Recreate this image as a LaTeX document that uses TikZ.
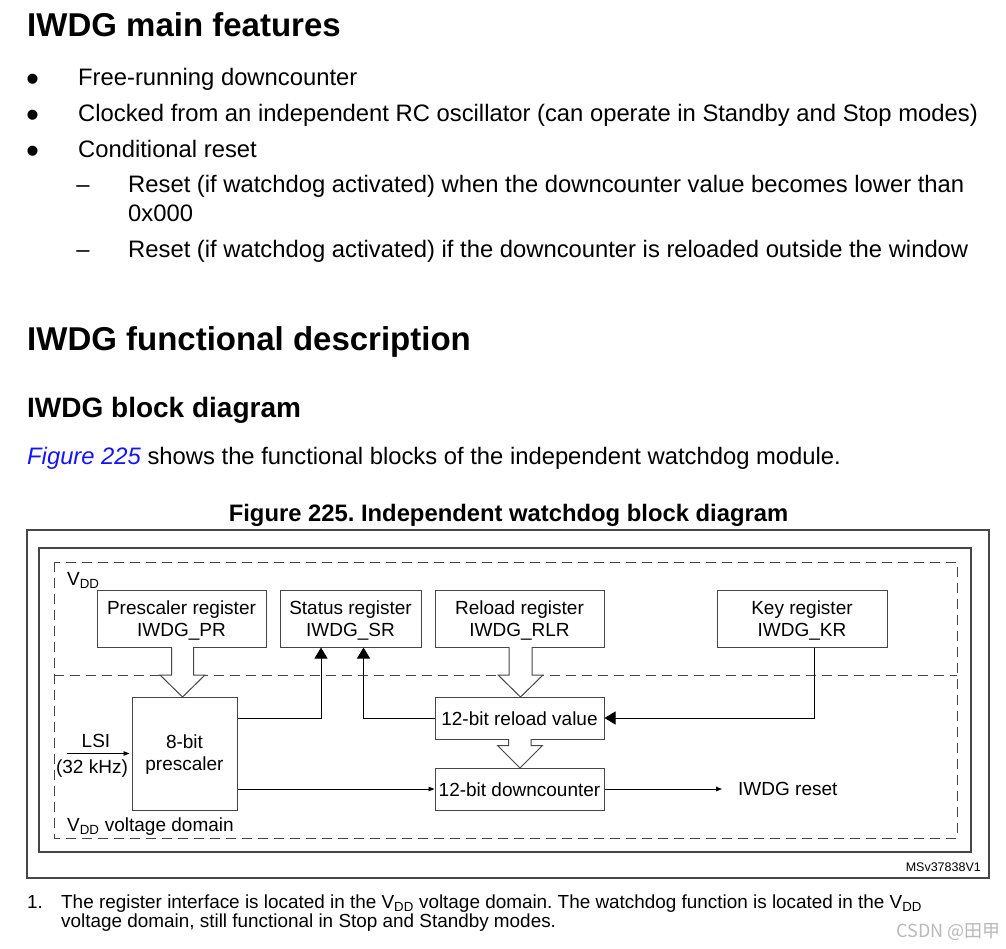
\documentclass[tikz,border=0pt]{standalone}
\usepackage{fontspec}
\setmainfont{Liberation Sans}
\newfontfamily\cjkfont{Noto Sans CJK SC}
\usetikzlibrary{arrows.meta}
\definecolor{linkblue}{RGB}{20,20,250}
\definecolor{linegray}{RGB}{70,70,70}
\definecolor{wmgray}{RGB}{185,185,185}
\newcommand\myfs[1]{\fontsize{#1}{#1}\selectfont}
\frenchspacing
\begin{document}
\begin{tikzpicture}[x=1pt,y=-1pt,
  txt/.style={inner sep=0pt, anchor=base west},
  body/.style={txt, font=\myfs{23.8}},
  bul/.style={inner sep=0pt, anchor=center, font=\myfs{37}},
  hone/.style={txt, font=\myfs{33}\bfseries},
  htwo/.style={txt, font=\myfs{28}\bfseries},
  figcap/.style={txt, anchor=base, font=\myfs{23.8}\bfseries},
  dlbl/.style={txt, anchor=base, font=\myfs{19}},
  foot/.style={txt, font=\myfs{18.9}},
  frame/.style={draw=linegray, line width=1.3pt},
  domdash/.style={draw=linegray, line width=1pt, dash pattern=on 10pt off 6pt},
  reg/.style={draw=linegray, line width=1pt, inner sep=0pt},
  bigarrow/.style={draw=black, line width=0.9pt, -{Triangle[length=11pt,width=13pt]}},
  smallarrow/.style={draw=black, line width=0.9pt, -{Triangle[length=6pt,width=4.5pt]}},
  hollow/.style={draw=linegray, line width=1pt, line join=miter}
]
\useasboundingbox (0,0) rectangle (1006,949);
\fill[white] (0,0) rectangle (1006,949);

% ---------- text part ----------
\node[hone] (h1) at (27,37) {IWDG main features};
\node[bul] (b1) at (32.5,82.8) {•};
\node[body] (t1) at (78,85.5) {Free-running downcounter};
\node[bul] (b2) at (32.5,118.8) {•};
\node[body] (t2) at (78,121.5) {Clocked from an independent RC oscillator (can operate in Standby and Stop modes)};
\node[bul] (b3) at (32.5,154.8) {•};
\node[body] (t3) at (78,157.5) {Conditional reset};
\node[body, anchor=base] (d1) at (83,192.5) {–};
\node[body] (t4) at (128,192.5) {Reset (if watchdog activated) when the downcounter value becomes lower than};
\node[body] (t5) at (128,221.5) {0x000};
\node[body, anchor=base] (d2) at (83,257.5) {–};
\node[body] (t6) at (128,257.5) {Reset (if watchdog activated) if the downcounter is reloaded outside the window};

\node[hone] (h2) at (27,350) {IWDG functional description};
\node[htwo] (h3) at (27,417) {IWDG block diagram};
\node[body] (t7) at (27,464.5) {{\color{linkblue}\itshape Figure 225} shows the functional blocks of the independent watchdog module.};
\node[figcap] (fc) at (508.5,521.5) {Figure 225. Independent watchdog block diagram};

% ---------- frames ----------
\draw[frame] (27,530) rectangle (989,878);
\draw[frame] (39,548) rectangle (971,852);
\draw[domdash] (54,562) rectangle (957,838);
\draw[domdash] (54,675) -- (957,675);

\node[dlbl, anchor=base west] (vdd1) at (67,585) {V\textsubscript{DD}};
\node[dlbl, anchor=base west] (vdd2) at (67,831) {V\textsubscript{DD} voltage domain};
\node[txt, anchor=base east, font=\myfs{12.5}] (ms) at (981,871) {MSv37838V1};

% ---------- boxes ----------
\node[reg, minimum width=169, minimum height=57] (pr) at (181.5,618.5) {};
\node[reg, minimum width=141, minimum height=57] (sr) at (350.5,618.5) {};
\node[reg, minimum width=169, minimum height=57] (rlr) at (519.5,618.5) {};
\node[reg, minimum width=170, minimum height=57] (kr) at (802,618.5) {};
\node[reg, minimum width=105, minimum height=113] (psc) at (184.5,753.5) {};
\node[reg, minimum width=169, minimum height=42] (rv) at (519.5,718) {};
\node[reg, minimum width=169, minimum height=42] (dc) at (519.5,789) {};

\node[dlbl] (prl1) at (181.5,614) {Prescaler register};
\node[dlbl] (prl2) at (181.5,636) {IWDG\_PR};
\node[dlbl] (srl1) at (350.5,614) {Status register};
\node[dlbl] (srl2) at (350.5,636) {IWDG\_SR};
\node[dlbl] (rll1) at (519.5,614) {Reload register};
\node[dlbl] (rll2) at (519.5,636) {IWDG\_RLR};
\node[dlbl] (krl1) at (802,614) {Key register};
\node[dlbl] (krl2) at (802,636) {IWDG\_KR};
\node[dlbl] (pl1) at (184.5,748.5) {8-bit};
\node[dlbl] (pl2) at (184.5,770.5) {prescaler};
\node[dlbl] (rvl) at (519.5,725) {12-bit reload value};
\node[dlbl] (dcl) at (519.5,796) {12-bit downcounter};
\node[dlbl] (lsi) at (96,747.5) {LSI};
\node[dlbl] (khz) at (92,773) {(32 kHz)};
\node[dlbl, anchor=west] (reset) at (738,789) {IWDG reset};

% ---------- hollow arrows ----------
\fill[white] (171.5,647) -- (171.5,675) -- (160,675) -- (182.5,697) -- (205,675) -- (193.5,675) -- (193.5,647) -- cycle;
\draw[hollow] (171.5,647) -- (171.5,675) -- (160,675) -- (182.5,697) -- (205,675) -- (193.5,675) -- (193.5,647);
\fill[white] (509,647) -- (509,675) -- (498,675) -- (520.5,697) -- (543,675) -- (532,675) -- (532,647) -- cycle;
\draw[hollow] (509,647) -- (509,675) -- (498,675) -- (520.5,697) -- (543,675) -- (532,675) -- (532,647);
\fill[white] (508.5,739) -- (508.5,745.5) -- (497.5,745.5) -- (520,768) -- (542.5,745.5) -- (531,745.5) -- (531,739) -- cycle;
\draw[hollow] (508.5,739) -- (508.5,745.5) -- (497.5,745.5) -- (520,768) -- (542.5,745.5) -- (531,745.5) -- (531,739);

% ---------- connectors ----------
\draw[bigarrow] (psc.east |- rv.west) -| ([xshift=-29.5pt]sr.south);
\draw[bigarrow] (rv.west) -| ([xshift=13pt]sr.south);
\draw[bigarrow] ([xshift=12.7pt]kr.south) |- (rv.east);
\draw[smallarrow] (psc.east |- dc.west) -- (dc.west);
\draw[smallarrow] (dc.east) -- ([xshift=-16pt]reset.west);
\coordinate (lsiin) at (66.7,753.5);
\draw[smallarrow, shorten >=2pt] (lsiin) -- (psc.west);

% ---------- footnote ----------
\node[foot] (fn0) at (27,908) {1.};
\node[foot] (fn1) at (61,908) {The register interface is located in the V\textsubscript{DD} voltage domain. The watchdog function is located in the V\textsubscript{DD}};
\node[foot] (fn2) at (61,927) {voltage domain, still functional in Stop and Standby modes.};
\node[txt, anchor=base east, font=\cjkfont\myfs{18}, text=wmgray] (wm) at (1001,937) {CSDN @田甲};
\end{tikzpicture}
\end{document}
